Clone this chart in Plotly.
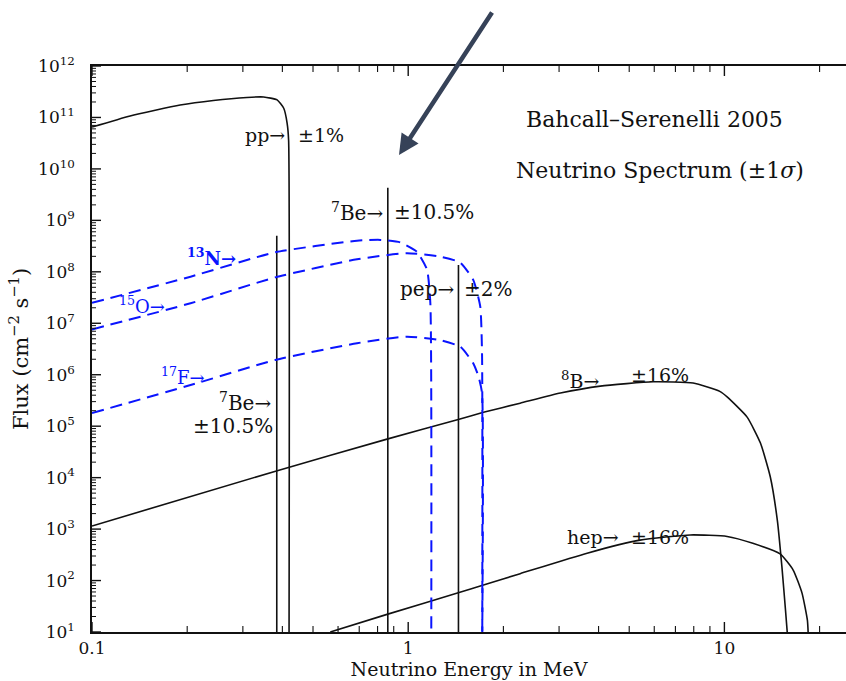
import plotly.graph_objects as go

# ---------------- data ----------------
pp_E = [0.1, 0.132, 0.19, 0.242, 0.309, 0.349, 0.385, 0.404, 0.414, 0.4186, 0.42]
pp_F = [6.5e10, 1.07e11, 1.74e11, 2.14e11, 2.45e11, 2.5e11, 2.19e11, 1.51e11, 7.8e10, 3.6e10, 10]

b8_E = [0.1, 0.383, 0.857, 1.44, 1.73, 2.26, 3.03, 4.05, 5.95, 7.96, 9.7, 10.2, 11.8, 13.0, 13.96, 14.7, 15.2, 15.6, 15.8]
b8_F = [1150, 1.35e4, 5.6e4, 1.35e5, 1.86e5, 2.8e5, 4.4e5, 6.0e5, 7.3e5, 6.9e5, 4.7e5, 3.7e5, 1.5e5, 4.7e4, 1.05e4, 1.5e3, 186, 27, 10]

hep_E = [0.567, 0.857, 1.44, 1.73, 2.26, 3.68, 5.41, 7.8, 10.2, 12.3, 15.0, 16.5, 17.6, 18.3, 18.4]
hep_F = [10, 22, 58, 82, 136, 340, 610, 770, 720, 530, 330, 160, 57, 17, 10]

n13_E = [0.1, 0.205, 0.38, 0.689, 0.816, 0.944, 1.066, 1.147, 1.175, 1.183]
n13_F = [2.5e7, 8.05e7, 2.4e8, 4.03e8, 4.17e8, 3.72e8, 2.45e8, 1.1e8, 2.45e7, 10]

o15_E = [0.1, 0.205, 0.38, 0.689, 0.991, 1.263, 1.461, 1.607, 1.69, 1.712, 1.715]
o15_F = [7.6e6, 2.45e7, 7.8e7, 1.75e8, 2.3e8, 1.97e8, 1.51e8, 6.9e7, 2.1e7, 2.6e6, 10]

f17_E = [0.1, 0.205, 0.38, 0.689, 0.991, 1.263, 1.461, 1.607, 1.67, 1.712, 1.715]
f17_F = [1.8e5, 6.3e5, 1.94e6, 4.1e6, 5.5e6, 4.7e6, 3.5e6, 1.66e6, 9.1e5, 4.4e5, 10]

line_names = ["7Be 384 keV", "7Be 862 keV", "pep"]
line_E = [0.384, 0.862, 1.442]
line_top = [5.0e8, 4.3e9, 1.35e8]
line_bottom = 10

x_ticks = [0.1, 1, 10]
x_ticktext = ["0.1", "1", "10"]
y_exponents = list(range(1, 13))

# ---------------- figure ----------------
W, H = 846, 681
L, R, T, B = 92, 0, 66, 49
PW, PH = W - L - R, H - T - B
XDEC = 316.2                 # pixels per decade on x
XR = [-1, -1 + PW / XDEC]    # log10 range of x
YR = [1, 12]                 # log10 range of y
YDEC = PH / (YR[1] - YR[0])  # pixels per decade on y
FONT = "DejaVu Serif"
BLUE = "#0a14ff"

fig = go.Figure()

def solid(x, y, name, smooth=True):
    fig.add_trace(go.Scatter(x=x, y=y, mode="lines", name=name,
                             line=dict(color="#111111", width=1.6,
                                       shape="spline" if smooth else "linear",
                                       smoothing=0.5)))

def dashed(x, y, name):
    fig.add_trace(go.Scatter(x=x, y=y, mode="lines", name=name,
                             line=dict(color=BLUE, width=2, dash="12px,7px",
                                       shape="spline", smoothing=0.5)))

solid(pp_E, pp_F, "pp")
solid(b8_E, b8_F, "8B")
solid(hep_E, hep_F, "hep")
for nm, e, top in zip(line_names, line_E, line_top):
    solid([e, e], [line_bottom, top], nm, smooth=False)
dashed(n13_E, n13_F, "13N")
dashed(o15_E, o15_F, "15O")
dashed(f17_E, f17_F, "17F")

# ---- tick marks drawn inside the frame (major + minor) ----
xmin, xmax = 10 ** XR[0], 10 ** XR[1]
ymin, ymax = 10 ** YR[0], 10 ** YR[1]
x_major_vals = [v for v in x_ticks if xmin <= v <= xmax]
x_minor_vals = [m * 10 ** k for k in (-1, 0, 1) for m in range(2, 10)
                if xmin < m * 10 ** k < xmax]
y_major_vals = [10 ** k for k in y_exponents]
y_minor_vals = [m * 10 ** k for k in range(1, 12) for m in range(2, 10)]

def xtick_segments(vals, length):
    xs, ys = [], []
    f = 10 ** (length / YDEC)
    for v in vals:
        xs += [v, v, None, v, v, None]
        ys += [ymin, ymin * f, None, ymax, ymax / f, None]
    return xs, ys

def ytick_segments(vals, length):
    xs, ys = [], []
    f = 10 ** (length / XDEC)
    for v in vals:
        xs += [xmin, xmin * f, None]
        ys += [v, v, None]
    return xs, ys

for (xs, ys), w in [(xtick_segments(x_major_vals, 10), 1.4),
                    (xtick_segments(x_minor_vals, 6), 1.1),
                    (ytick_segments(y_major_vals, 9), 1.4),
                    (ytick_segments(y_minor_vals, 4), 1.0)]:
    fig.add_trace(go.Scatter(x=xs, y=ys, mode="lines", hoverinfo="skip",
                             showlegend=False, connectgaps=False,
                             line=dict(color="#111111", width=w)))

def px(x):
    return (x - L) / PW

def py(y):
    return (H - B - y) / PH

anns = []

def txt(t, x, y, anchor="left", color="#111111", size=20):
    anns.append(dict(text=t, x=px(x), y=py(y), xref="paper", yref="paper",
                     xanchor=anchor, yanchor="middle", showarrow=False,
                     font=dict(family=FONT, size=size, color=color)))

txt("pp→", 287, 135, "right", size=19)
txt("±1%", 296, 135, "left", size=19)
txt("<sup>7</sup>Be→", 385, 212, "right")
txt("±10.5%", 392, 212, "left")
txt("pep→", 456, 289, "right")
txt("±2%", 462, 289, "left")
txt("<b><sup>13</sup>N→</b>", 238, 257, "right", BLUE, 18)
txt("<sup>15</sup>O→", 167, 305, "right", BLUE, 18)
txt("<sup>17</sup>F→", 207, 376, "right", BLUE, 18)
txt("<sup>7</sup>Be→", 273, 402, "right")
txt("±10.5%", 275, 426, "right")
txt("<sup>8</sup>B→", 601, 380, "right", size=19)
txt("±16%", 629, 375, "left", size=19)
txt("hep→", 621, 537, "right", size=19)
txt("±16%", 629, 537, "left", size=19)
txt("Bahcall–Serenelli 2005", 654, 119, "center", size=22)
txt("Neutrino Spectrum (±1<i>σ</i>)", 660, 170, "center", size=22)

# arrow overlay
anns.append(dict(text="", x=px(399), y=py(155), xref="paper", yref="paper",
                 showarrow=True, ax=94, ay=-144, axref="pixel", ayref="pixel",
                 arrowhead=2, arrowsize=0.9, arrowwidth=4.5, arrowcolor="#364258",
                 standoff=0))

y_ticks = [10 ** k for k in y_exponents]
y_ticktext = ["10<sup>%d</sup>" % k for k in y_exponents]

fig.update_layout(
    width=W, height=H,
    margin=dict(l=L, r=R, t=T, b=B),
    paper_bgcolor="white", plot_bgcolor="white",
    showlegend=False,
    font=dict(family=FONT, color="#111111"),
    annotations=anns,
    xaxis=dict(type="log", range=XR, automargin=False,
               tickmode="array", tickvals=x_ticks, ticktext=x_ticktext,
               ticks="", showline=True, linecolor="#111111", linewidth=1.5,
               mirror=True, showgrid=False, zeroline=False,
               tickfont=dict(family=FONT, size=17),
               title=dict(text="Neutrino Energy in MeV",
                          font=dict(family=FONT, size=19), standoff=4)),
    yaxis=dict(type="log", range=YR, automargin=False,
               tickmode="array", tickvals=y_ticks, ticktext=y_ticktext,
               ticks="", showline=True, linecolor="#111111", linewidth=1.5,
               showgrid=False, zeroline=False, ticklabelstandoff=12,
               tickfont=dict(family=FONT, size=17),
               title=dict(text="Flux (cm<sup>−2</sup> s<sup>−1</sup>)",
                          font=dict(family=FONT, size=21), standoff=4)),
)

fig.write_html("out.html")
